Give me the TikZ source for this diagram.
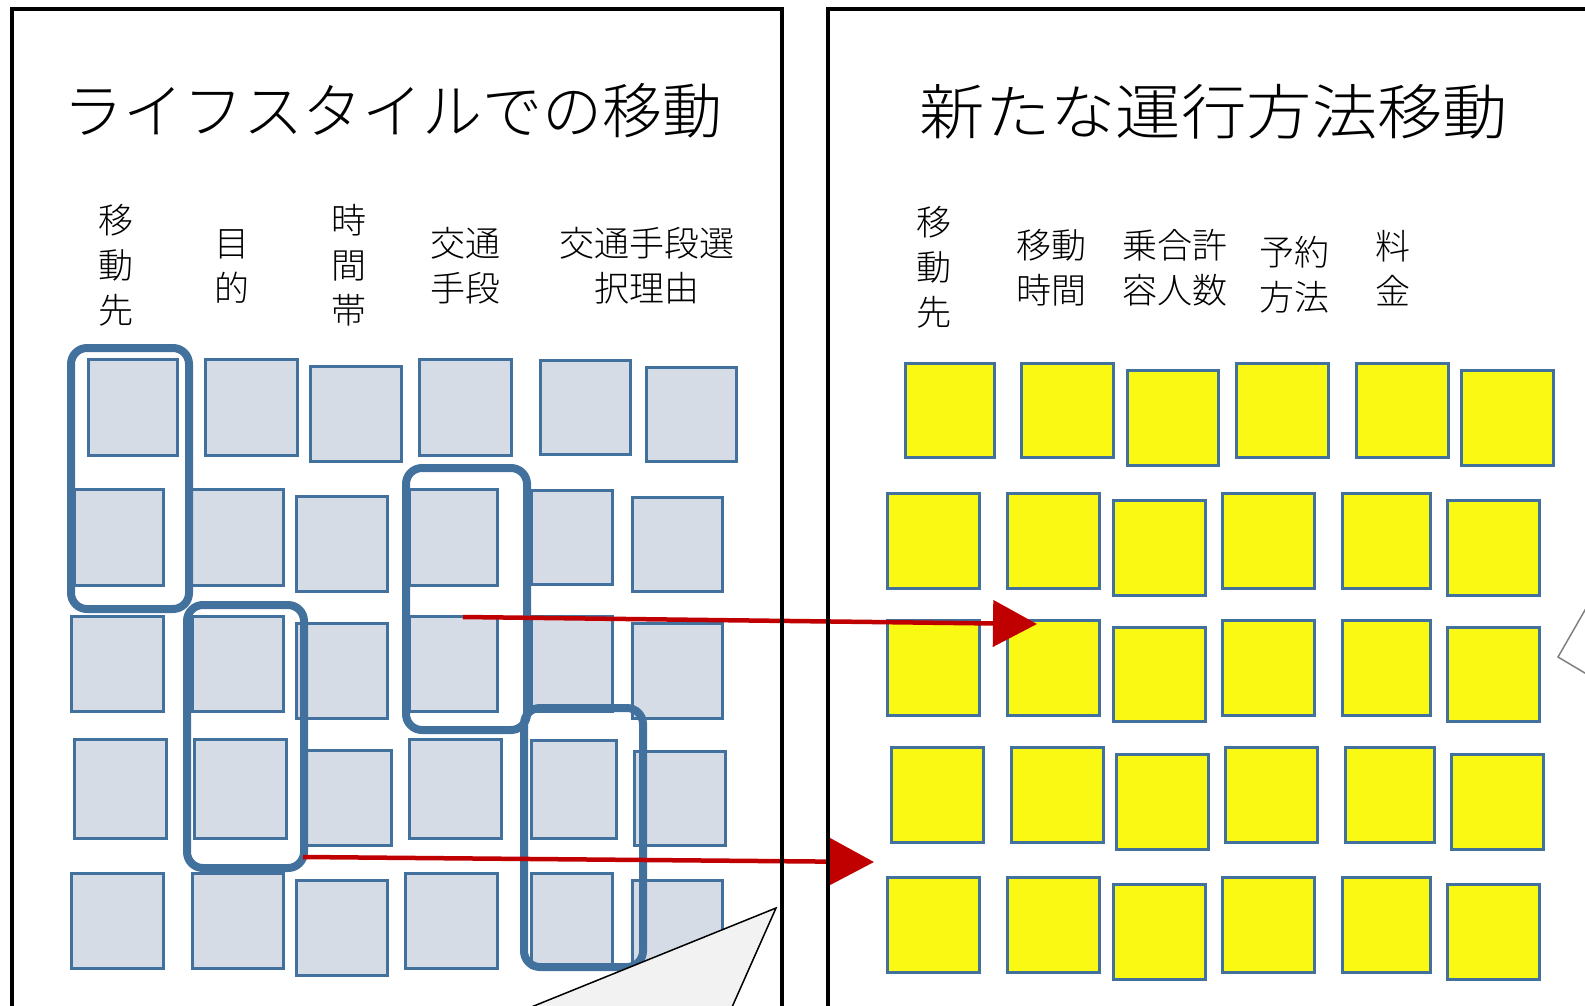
\documentclass[tikz,border=0pt]{standalone}
\usepackage{fontspec}
\newfontfamily\jp{Noto Sans CJK JP Light}
\usetikzlibrary{arrows.meta}
\definecolor{boxblue}{HTML}{41719C}
\definecolor{boxgray}{HTML}{D6DCE5}
\definecolor{boxyellow}{HTML}{F9F914}
\definecolor{arrowred}{HTML}{C00000}
\definecolor{calloutgray}{HTML}{F2F2F2}
\tikzset{
 gbox/.style={draw=boxblue, fill=boxgray, line width=3pt, inner sep=0pt, outer sep=0pt},
 ybox/.style={draw=boxblue, fill=boxyellow, line width=3pt, inner sep=0pt, outer sep=0pt},
 grp/.style={draw=boxblue, line width=8pt, rounded corners=16pt, inner sep=0pt, outer sep=0pt},
 hdr/.style={font=\jp\fontsize{35}{45}\selectfont, align=center, inner sep=0pt},
 ttl/.style={font=\jp\fontsize{60}{60}\selectfont, inner sep=0pt},
 panel/.style={draw=black, line width=3.5pt},
 flow/.style={draw=arrowred, line width=4.5pt, -{Triangle[length=44pt,width=46pt]}},
 callout/.style={fill=calloutgray, draw=black, line width=1.5pt, line join=miter},
 callout2/.style={fill=white, draw=gray, line width=1.5pt},
}
\newcommand\bx[6]{\node[#2, minimum width={(#5-#3-3)*1pt}, minimum height={(#6-#4-3)*1pt}] (#1) at ({(#3+#5)/2},{(#4+#6)/2}) {};}
\newcommand\grpbox[5]{\node[grp, minimum width={(#4-#2-8)*1pt}, minimum height={(#5-#3-8)*1pt}] (#1) at ({(#2+#4)/2},{(#3+#5)/2}) {};}
\begin{document}
\begin{tikzpicture}[x=1pt,y=-1pt]
\useasboundingbox (0,0) rectangle (1585,1005);
\clip (0,0) rectangle (1585,1005);
\fill[white] (0,0) rectangle (1585,1005);

% titles
\node[ttl] (t1) at (393,111) {ライフスタイルでの移動};
\node[ttl] (t2) at (1214,112) {\scalebox{1.09}[1]{新たな運行方法移動}};

% left headers
\node[hdr] (h1) at (116,265) {移\\動\\先};
\node[hdr] (h2) at (232,266) {目\\的};
\node[hdr] (h3) at (349,265) {時\\間\\帯};
\node[hdr] (h4) at (465,266) {交通\\手段};
\node[hdr] (h5) at (647,266) {交通手段選\\択理由};

% right headers
\node[hdr] (k1) at (934,267) {移\\動\\先};
\node[hdr] (k2) at (1051,268) {移動\\時間};
\node[hdr] (k3) at (1175,268) {乗合許\\容人数};
\node[hdr] (k4) at (1294,275) {予約\\方法};
\node[hdr] (k5) at (1393,268) {料\\金};

% left grid
\bx{b11}{gbox}{87}{358}{179}{457}
\bx{b12}{gbox}{204}{358}{299}{457}
\bx{b13}{gbox}{309}{365}{403}{463}
\bx{b14}{gbox}{418}{358}{513}{457}
\bx{b15}{gbox}{539}{359}{632}{456}
\bx{b16}{gbox}{645}{366}{738}{463}
\bx{b21}{gbox}{73}{488}{165}{587}
\bx{b22}{gbox}{189}{488}{285}{587}
\bx{b23}{gbox}{295}{495}{389}{593}
\bx{b24}{gbox}{408}{488}{499}{587}
\bx{b25}{gbox}{530}{489}{614}{586}
\bx{b26}{gbox}{631}{496}{724}{593}
\bx{b31}{gbox}{70}{615}{165}{713}
\bx{b32}{gbox}{191}{615}{285}{713}
\bx{b33}{gbox}{295}{622}{389}{720}
\bx{b34}{gbox}{408}{615}{499}{713}
\bx{b35}{gbox}{530}{615}{614}{713}
\bx{b36}{gbox}{631}{622}{724}{720}
\bx{b41}{gbox}{73}{738}{168}{840}
\bx{b42}{gbox}{193}{738}{288}{840}
\bx{b43}{gbox}{300}{749}{393}{847}
\bx{b44}{gbox}{408}{738}{503}{840}
\bx{b45}{gbox}{530}{739}{618}{840}
\bx{b46}{gbox}{633}{750}{727}{847}
\bx{b51}{gbox}{70}{872}{165}{970}
\bx{b52}{gbox}{191}{872}{285}{970}
\bx{b53}{gbox}{295}{879}{389}{977}
\bx{b54}{gbox}{404}{872}{499}{970}
\bx{b55}{gbox}{530}{872}{614}{969}
\bx{b56}{gbox}{631}{879}{724}{977}

% groups
\grpbox{g1}{67}{344}{193}{613}
\grpbox{g2}{402}{464}{531}{734}
\grpbox{g3}{183}{601}{308}{872}
\grpbox{g4}{520}{704}{647}{971}

% right grid
\bx{r11}{ybox}{904}{362}{996}{459}
\bx{r12}{ybox}{1020}{362}{1115}{459}
\bx{r13}{ybox}{1126}{369}{1220}{467}
\bx{r14}{ybox}{1235}{362}{1330}{459}
\bx{r15}{ybox}{1355}{362}{1450}{459}
\bx{r16}{ybox}{1460}{369}{1555}{467}
\bx{r21}{ybox}{886}{492}{981}{590}
\bx{r22}{ybox}{1006}{492}{1101}{590}
\bx{r23}{ybox}{1112}{499}{1207}{597}
\bx{r24}{ybox}{1221}{492}{1316}{590}
\bx{r25}{ybox}{1341}{492}{1432}{590}
\bx{r26}{ybox}{1446}{499}{1541}{597}
\bx{r31}{ybox}{886}{619}{981}{717}
\bx{r32}{ybox}{1006}{619}{1101}{717}
\bx{r33}{ybox}{1112}{626}{1207}{723}
\bx{r34}{ybox}{1221}{619}{1316}{717}
\bx{r35}{ybox}{1341}{619}{1432}{717}
\bx{r36}{ybox}{1446}{626}{1541}{723}
\bx{r41}{ybox}{890}{746}{985}{844}
\bx{r42}{ybox}{1010}{746}{1105}{844}
\bx{r43}{ybox}{1115}{753}{1210}{851}
\bx{r44}{ybox}{1224}{746}{1319}{844}
\bx{r45}{ybox}{1344}{746}{1436}{844}
\bx{r46}{ybox}{1450}{753}{1545}{851}
\bx{r51}{ybox}{886}{876}{981}{974}
\bx{r52}{ybox}{1006}{876}{1101}{974}
\bx{r53}{ybox}{1112}{883}{1207}{981}
\bx{r54}{ybox}{1221}{876}{1316}{974}
\bx{r55}{ybox}{1341}{876}{1432}{974}
\bx{r56}{ybox}{1446}{883}{1541}{981}

% arrows
\coordinate (a1s) at (463,617);
\coordinate (a1e) at (1037,624);
\coordinate (a2s) at (303,857);
\coordinate (a2e) at (874,862);
\draw[flow] (a1s) -- (a1e);
\draw[flow] (a2s) -- (a2e);

% callouts
\coordinate (c1) at (776,908);
\draw[callout] (c1) -- (713,1050) -- (425,1050) -- cycle;
\coordinate (c2) at (1558,657);
\draw[callout2] (1600,584) -- (c2) -- (1600,682);

% panels
\draw[panel] (12,1050) -- (12,9) -- (782,9) -- (782,1050);
\draw[panel] (828,1050) -- (828,9) -- (1600,9);
\end{tikzpicture}
\end{document}
